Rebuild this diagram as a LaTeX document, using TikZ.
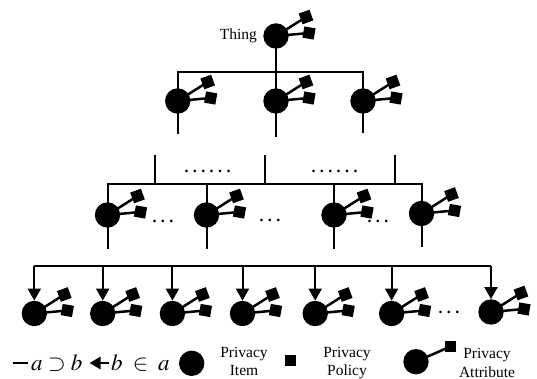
\documentclass[tikz,border=0pt]{standalone}
\usepackage{mathptmx}
\usepackage[no-math]{fontspec}
\setmainfont{Liberation Serif}
\usetikzlibrary{arrows.meta}
\newcommand{\dd}{.\kern4.4pt}
\tikzset{
  item/.style={circle, fill=black, inner sep=0pt, minimum size=25.4pt},
  conn/.style={line width=2pt},
  arr/.style={line width=2pt, -{Triangle[length=12pt,width=13pt]}},
  lbl/.style={font=\fontsize{15.5}{18}\selectfont, inner sep=0pt},
  dotrow/.style={font=\fontsize{16}{18}\selectfont\bfseries, inner sep=0pt},
  formula/.style={font=\fontsize{23}{25}\selectfont, inner sep=0pt},
  glyphline/.style={line width=2.5pt},
  attr/.pic={
    \draw[glyphline] (0,0) -- (30,-19);
    \draw[glyphline] (0,0) -- (33,-3);
    \fill[shift={(30,-19)}, rotate=20] (-5.7,-5.7) rectangle (5.7,5.7);
    \fill[shift={(33,-3)}, rotate=-10] (-5.7,-5.7) rectangle (5.7,5.7);
  }
}
\begin{document}
\begin{tikzpicture}[x=1pt,y=-1pt]
\useasboundingbox (0,0) rectangle (537,379);
% root
\node[item] (t) at (276,36) {};
\pic at (t.center) {attr};
\node[lbl, anchor=base east] (tl) at (257,40) {Thing};
% level 1
\node[item] (a1) at (177.7,101) {};
\node[item] (a2) at (276,101) {};
\node[item] (a3) at (363,101) {};
\foreach \n in {a1,a2,a3} {\pic at (\n.center) {attr};}
\coordinate (bar1) at (276,72.5);
\draw[conn] (t.center) -- (a2.center);
\draw[conn] (a1.center) |- (bar1) -| (a3.center);
\coordinate (a1e) at (177.7,134);
\coordinate (a2e) at (276,137.5);
\coordinate (a3e) at (363,133);
\draw[conn] (a1.center) -- (a1e);
\draw[conn] (a2.center) -- (a2e);
\draw[conn] (a3.center) -- (a3e);
% middle dots
\node[dotrow] (d1) at (207.5,171) {\dd\dd\dd\dd\dd.};
\node[dotrow] (d2) at (334.5,171) {\dd\dd\dd\dd\dd.};
% level 2
\coordinate (bar2) at (0,184.5);
\coordinate (m1) at (155,155);
\coordinate (m2) at (265,155);
\coordinate (m3) at (395,155);
\node[item] (c1) at (107.5,215) {};
\node[item] (c2) at (206.5,215) {};
\node[item] (c3) at (334,215) {};
\node[item] (c4) at (421.5,213.5) {};
\foreach \n in {c1,c2,c3,c4} {\pic at (\n.center) {attr};}
\draw[conn] (c1.center) |- (c4.center |- bar2) -- (c4.center);
\draw[conn] (c2.center) -- (c2.center |- bar2);
\draw[conn] (c3.center) -- (c3.center |- bar2);
\foreach \m in {m1,m2,m3} {\draw[conn] (\m) -- (\m |- bar2);}
\coordinate (c1e) at (107.5,248.5);
\coordinate (c2e) at (206.5,248.5);
\coordinate (c3e) at (334,248.5);
\coordinate (c4e) at (421.5,247);
\draw[conn] (c1.center) -- (c1e);
\draw[conn] (c2.center) -- (c2e);
\draw[conn] (c3.center) -- (c3e);
\draw[conn] (c4.center) -- (c4e);
\node[dotrow] (e1) at (163,221) {\dd\dd.};
\node[dotrow] (e2) at (270,220) {\dd\dd.};
\node[dotrow] (e3) at (378,221) {\dd\dd.};
% level 3
\coordinate (bar3) at (0,265.7);
\node[item] (b1) at (34.3,313.5) {};
\node[item] (b2) at (102.7,313.5) {};
\node[item] (b3) at (172.4,313.5) {};
\node[item] (b4) at (242.5,313.5) {};
\node[item] (b5) at (315.2,313.5) {};
\node[item] (b6) at (391.6,313.5) {};
\node[item] (b7) at (491,312) {};
\foreach \n in {b1,b2,b3,b4,b5,b6,b7} {\pic at (\n.center) {attr};}
\draw[conn] (b1.center |- bar3) -- (b7.center |- bar3);
\foreach \n in {b1,b2,b3,b4,b5,b6,b7} {\draw[arr] (\n.center |- bar3) -- (\n);}
\node[dotrow] (f1) at (449,312) {\dd\dd.};
% legend
\coordinate (ld1) at (13,363);
\coordinate (ld2) at (28,363);
\draw[line width=2.8pt] (ld1) -- (ld2);
\node[formula, anchor=base west] (lf1) at (31,370) {$a\supset b$};
\coordinate (la1) at (109,363);
\coordinate (la2) at (89.5,363);
\draw[line width=2.8pt, -{Triangle[length=11pt,width=12pt]}] (la1) -- (la2);
\node[formula, anchor=base west] (lf2) at (111,370) {$b\mathrel{\kern5pt\in\kern5pt}a$};
\node[item] (li) at (191.7,363.3) {};
\node[lbl, anchor=base] (li1) at (244,357) {Privacy};
\node[lbl, anchor=base] (li2) at (244,375) {Item};
\node[fill=black, inner sep=0pt, minimum size=11pt] (lp) at (290,360) {};
\node[lbl, anchor=base] (lp1) at (347,357) {Privacy};
\node[lbl, anchor=base] (lp2) at (347,375) {Policy};
\node[item] (la) at (416,361.7) {};
\node[fill=black, inner sep=0pt, minimum size=11pt] (las) at (450,346.7) {};
\draw[glyphline] (la.center) -- (las.center);
\node[lbl, anchor=base] (la3) at (487,358) {Privacy};
\node[lbl, anchor=base] (la4) at (487,377) {Attribute};
\end{tikzpicture}
\end{document}
